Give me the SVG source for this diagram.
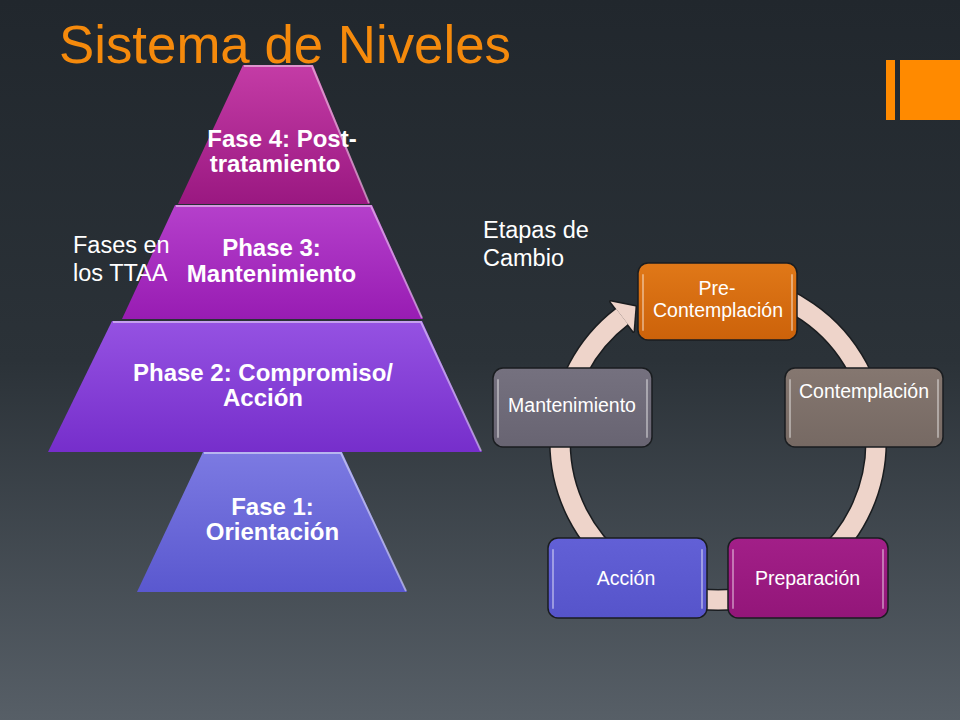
<svg xmlns="http://www.w3.org/2000/svg" width="960" height="720" viewBox="0 0 960 720">
<defs>
<linearGradient id="bg" x1="0" y1="0" x2="0" y2="1">
<stop offset="0" stop-color="#21272d"/>
<stop offset="0.5" stop-color="#2b3238"/>
<stop offset="1" stop-color="#575f67"/>
</linearGradient>
<linearGradient id="g4" x1="0" y1="0" x2="0" y2="1"><stop offset="0" stop-color="#c43ca6"/><stop offset="1" stop-color="#9a1881"/></linearGradient>
<linearGradient id="g3" x1="0" y1="0" x2="0" y2="1"><stop offset="0" stop-color="#b540cb"/><stop offset="1" stop-color="#981cb3"/></linearGradient>
<linearGradient id="g2" x1="0" y1="0" x2="0" y2="1"><stop offset="0" stop-color="#9552e2"/><stop offset="1" stop-color="#762ecb"/></linearGradient>
<linearGradient id="g1" x1="0" y1="0" x2="0" y2="1"><stop offset="0" stop-color="#7c7ae2"/><stop offset="1" stop-color="#5a58cf"/></linearGradient>
<linearGradient id="bPre" x1="0" y1="0" x2="0" y2="1"><stop offset="0" stop-color="#e07818"/><stop offset="1" stop-color="#cc620a"/></linearGradient>
<linearGradient id="bCon" x1="0" y1="0" x2="0" y2="1"><stop offset="0" stop-color="#857770"/><stop offset="1" stop-color="#766963"/></linearGradient>
<linearGradient id="bPrep" x1="0" y1="0" x2="0" y2="1"><stop offset="0" stop-color="#a21f88"/><stop offset="1" stop-color="#931679"/></linearGradient>
<linearGradient id="bAcc" x1="0" y1="0" x2="0" y2="1"><stop offset="0" stop-color="#6260d6"/><stop offset="1" stop-color="#5654ca"/></linearGradient>
<linearGradient id="bMan" x1="0" y1="0" x2="0" y2="1"><stop offset="0" stop-color="#75717f"/><stop offset="1" stop-color="#686472"/></linearGradient>
</defs>
<style>
.title{font-family:"Liberation Sans",Arial,sans-serif;font-size:52.8px;fill:#f58a0c}
.lbl{font-family:"Liberation Sans",Arial,sans-serif;font-size:23.5px;fill:#ffffff}
.pt{font-family:"Liberation Sans",Arial,sans-serif;font-size:24px;font-weight:bold;fill:#ffffff;text-anchor:middle}
.bt{font-family:"Liberation Sans",Arial,sans-serif;font-size:19.5px;fill:#ffffff;text-anchor:middle}
.box{stroke:#1a1d20;stroke-width:1.5}
.hl{fill:none;stroke:#ffffff;stroke-opacity:0.4;stroke-width:2;stroke-linecap:round}
.edge{fill:none;stroke:#ffffff;stroke-opacity:0.45;stroke-width:2}
</style>
<rect x="0" y="0" width="960" height="720" fill="url(#bg)"/>
<rect x="886" y="60" width="9" height="60" fill="#ff8a00"/>
<rect x="900" y="60" width="60" height="60" fill="#ff8a00"/>
<text class="title" x="59" y="63">Sistema de Niveles</text>

<g id="fase4">
<polygon points="243,65 313,65 370,204 178,204" fill="url(#g4)"/>
<polyline class="edge" points="244,66 312,66 369,203"/>
<text class="pt" x="282" y="147">Fase 4: Post-</text>
<text class="pt" x="275" y="172">tratamiento</text>
</g>
<g id="fase3">
<polygon points="175,205 372,205 423,319 122,319" fill="url(#g3)"/>
<polyline class="edge" points="176,206 371,206 422,318"/>
<text class="pt" x="271.5" y="256">Phase 3:</text>
<text class="pt" x="271.5" y="282">Mantenimiento</text>
</g>
<g id="fase2">
<polygon points="112,321 422,321 482,452 48,452" fill="url(#g2)"/>
<polyline class="edge" points="113,322 421,322 481,451"/>
<text class="pt" x="263" y="381">Phase 2: Compromiso/</text>
<text class="pt" x="263" y="406">Acción</text>
</g>
<g id="fase1">
<polygon points="203,452 342,452 407,592 137,592" fill="url(#g1)"/>
<polyline class="edge" points="204,453 341,453 406,591"/>
<text class="pt" x="272.5" y="515">Fase 1:</text>
<text class="pt" x="272.5" y="540">Orientación</text>
</g>

<text class="lbl" x="73" y="253">Fases en</text>
<text class="lbl" x="73" y="281">los TTAA</text>
<text class="lbl" x="483" y="238">Etapas de</text>
<text class="lbl" x="483" y="266">Cambio</text>

<g id="connectors">
<path d="M 745.4 286.4 A 158 158 0 1 1 622.1 316.5" fill="none" stroke="#1a1d20" stroke-width="22"/>
<polygon points="610.5,301.5 635.5,306.5 633.5,331.5" fill="#1a1d20" stroke="#1a1d20" stroke-width="3" stroke-linejoin="round"/>
<path d="M 745.4 286.4 A 158 158 0 1 1 622.1 316.5" fill="none" stroke="#eed4ca" stroke-width="19"/>
<polygon points="610.5,301.5 635.5,306.5 633.5,331.5" fill="#eed4ca"/>
</g>

<g id="pre">
<rect class="box" x="638" y="263" width="159" height="77" rx="10" fill="url(#bPre)"/>
<path class="hl" d="M643 275 V330 M792 275 V330"/>
<text class="bt" x="717" y="295">Pre-</text>
<text class="bt" x="718" y="317">Contemplación</text>
</g>
<g id="contemplacion">
<rect class="box" x="785" y="368" width="158" height="79" rx="10" fill="url(#bCon)"/>
<path class="hl" d="M790 380 V437 M938 380 V437"/>
<text class="bt" x="864" y="398">Contemplación</text>
</g>
<g id="preparacion">
<rect class="box" x="728" y="538" width="160" height="80" rx="10" fill="url(#bPrep)"/>
<path class="hl" d="M733 550 V608 M883 550 V608"/>
<text class="bt" x="807.5" y="585">Preparación</text>
</g>
<g id="accion">
<rect class="box" x="548" y="538" width="159" height="80" rx="10" fill="url(#bAcc)"/>
<path class="hl" d="M553 550 V608 M702 550 V608"/>
<text class="bt" x="626" y="585">Acción</text>
</g>
<g id="mantenimiento">
<rect class="box" x="493" y="368" width="159" height="79" rx="10" fill="url(#bMan)"/>
<path class="hl" d="M498 380 V437 M647 380 V437"/>
<text class="bt" x="572" y="412">Mantenimiento</text>
</g>
</svg>
